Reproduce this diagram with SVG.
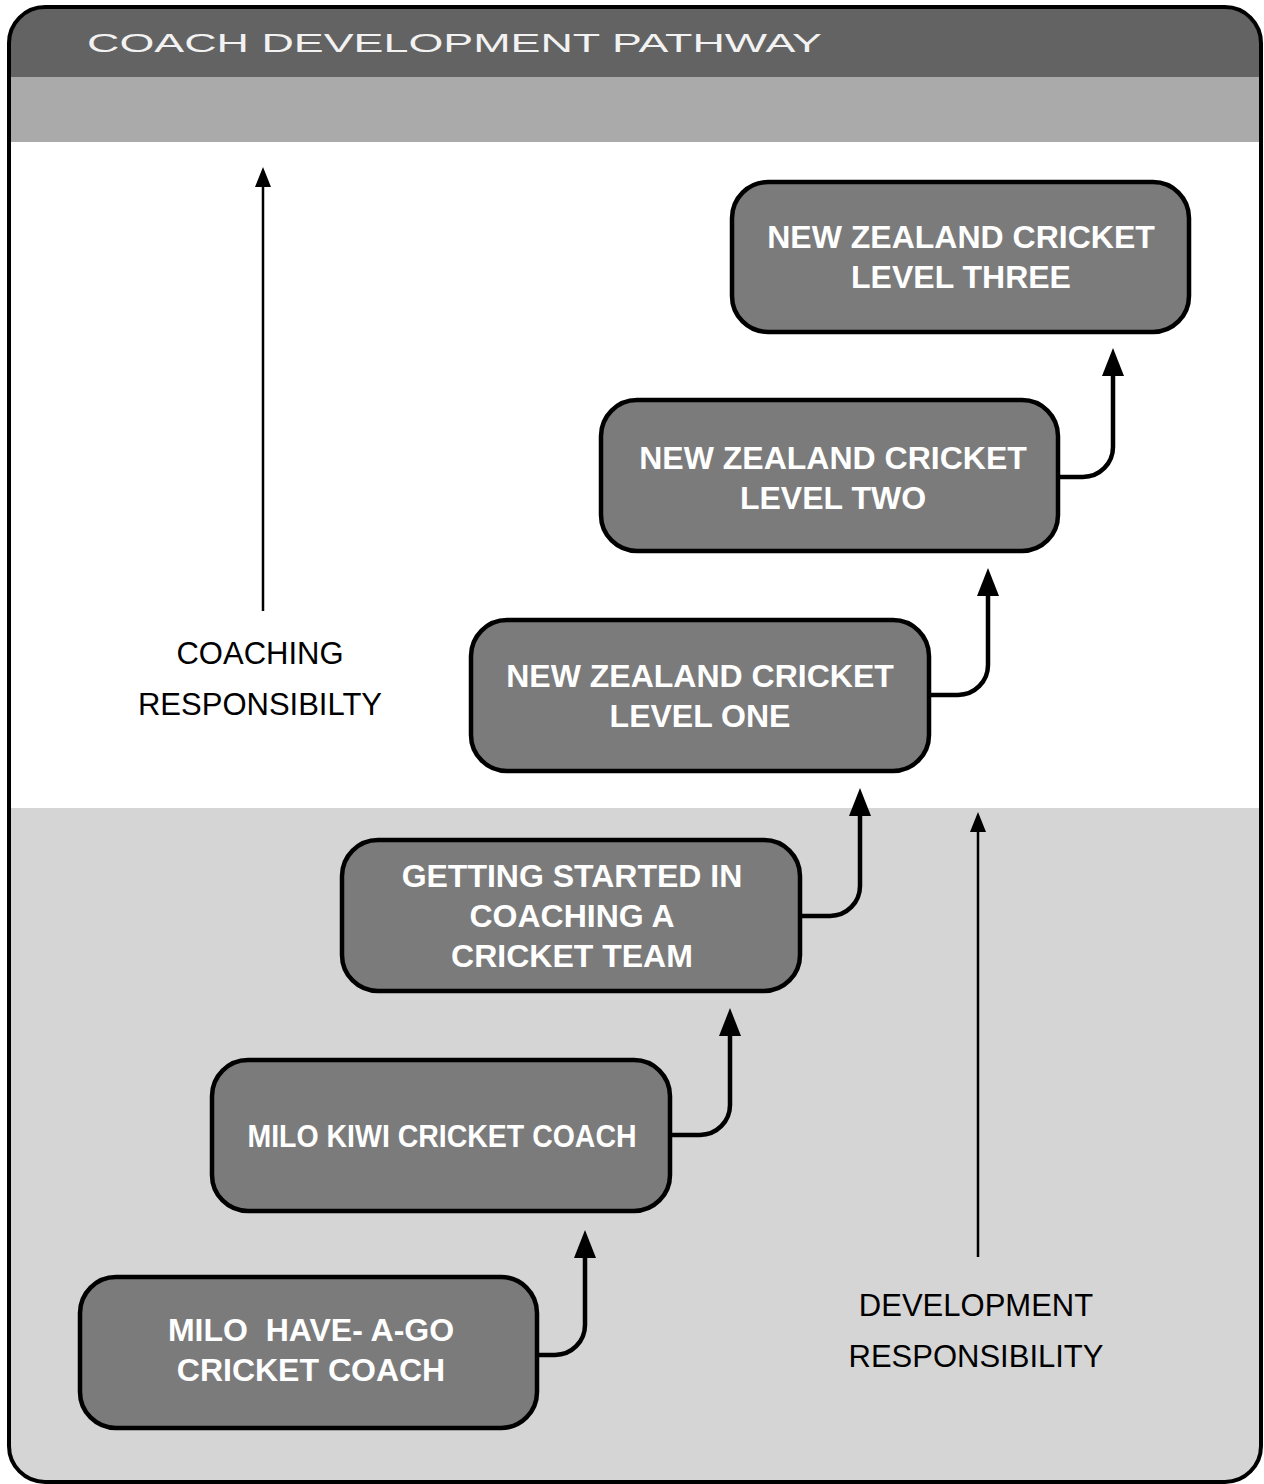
<svg xmlns="http://www.w3.org/2000/svg" width="1264" height="1484" viewBox="0 0 1264 1484">
<style>
.node rect{fill:#7b7b7b;stroke:#000;stroke-width:4.5}
.node text{font-family:"Liberation Sans",Arial,sans-serif;font-weight:bold;font-size:32px;fill:#fff;text-anchor:middle;white-space:pre}
.lbl{font-family:"Liberation Sans",Arial,sans-serif;font-size:31px;fill:#000;text-anchor:middle}
.conn{fill:none;stroke:#000;stroke-width:4.5}
.thin{fill:none;stroke:#000;stroke-width:2.5}
</style>
<defs>
<clipPath id="frameClip"><rect x="9" y="7" width="1252" height="1475" rx="36"/></clipPath>
<marker id="ah" markerUnits="userSpaceOnUse" markerWidth="28" markerHeight="22" refX="2" refY="11" orient="auto"><path d="M0,0 L28,11 L0,22 z" fill="#000"/></marker>
<marker id="ahs" markerUnits="userSpaceOnUse" markerWidth="20" markerHeight="16" refX="2" refY="8" orient="auto"><path d="M0,0 L20,8 L0,16 z" fill="#000"/></marker>
</defs>
<g id="background" clip-path="url(#frameClip)">
<rect x="0" y="0" width="1264" height="1484" fill="#d5d5d5"/>
<rect x="0" y="0" width="1264" height="77" fill="#636363"/>
<rect x="0" y="77" width="1264" height="65" fill="#aaaaaa"/>
<rect x="0" y="142" width="1264" height="666" fill="#ffffff"/>
</g>
<rect id="frame" x="9" y="7" width="1252" height="1475" rx="36" fill="none" stroke="#000" stroke-width="4"/>
<text id="title" x="87" y="52" font-family="Liberation Sans,Arial,sans-serif" font-size="26" fill="#f2f2f2" textLength="735" lengthAdjust="spacingAndGlyphs">COACH DEVELOPMENT PATHWAY</text>
<g id="connectors">
<path class="conn" d="M537,1355 H555 A30,30 0 0 0 585,1325 V1256" marker-end="url(#ah)"/>
<path class="conn" d="M670,1135 H700 A30,30 0 0 0 730,1105 V1034" marker-end="url(#ah)"/>
<path class="conn" d="M800,916 H830 A30,30 0 0 0 860,886 V814" marker-end="url(#ah)"/>
<path class="conn" d="M929,695 H958 A30,30 0 0 0 988,665 V594" marker-end="url(#ah)"/>
<path class="conn" d="M1058,477 H1083 A30,30 0 0 0 1113,447 V374" marker-end="url(#ah)"/>
<path class="thin" d="M263,611 V185" marker-end="url(#ahs)"/>
<path class="thin" d="M978,1257 V830" marker-end="url(#ahs)"/>
</g>
<g id="n-level3" class="node"><rect x="732" y="182" width="457" height="150" rx="36"/><text x="961" y="248">NEW ZEALAND CRICKET</text><text x="961" y="288">LEVEL THREE</text></g>
<g id="n-level2" class="node"><rect x="601" y="400" width="457" height="151" rx="36"/><text x="833" y="469">NEW ZEALAND CRICKET</text><text x="833" y="509">LEVEL TWO</text></g>
<g id="n-level1" class="node"><rect x="471" y="620" width="458" height="151" rx="36"/><text x="700" y="687">NEW ZEALAND CRICKET</text><text x="700" y="727">LEVEL ONE</text></g>
<g id="n-getting-started" class="node"><rect x="342" y="840" width="458" height="151" rx="36"/><text x="572" y="887">GETTING STARTED IN</text><text x="572" y="927">COACHING A</text><text x="572" y="967">CRICKET TEAM</text></g>
<g id="n-kiwi" class="node"><rect x="212" y="1060" width="458" height="151" rx="36"/><text x="442" y="1147" textLength="389" lengthAdjust="spacingAndGlyphs">MILO KIWI CRICKET COACH</text></g>
<g id="n-have-a-go" class="node"><rect x="80" y="1277" width="457" height="151" rx="36"/><text x="311" y="1341">MILO  HAVE- A-GO</text><text x="311" y="1381">CRICKET COACH</text></g>
<g id="labels">
<text class="lbl" x="260" y="664">COACHING</text>
<text class="lbl" x="260" y="715">RESPONSIBILTY</text>
<text class="lbl" x="976" y="1316">DEVELOPMENT</text>
<text class="lbl" x="976" y="1367">RESPONSIBILITY</text>
</g>
</svg>
